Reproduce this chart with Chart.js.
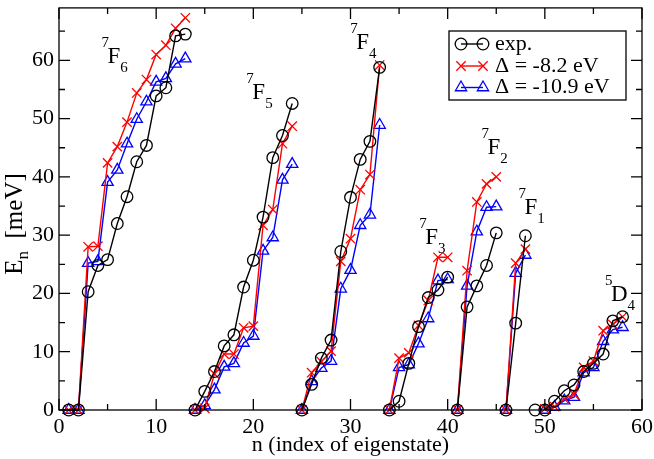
<!DOCTYPE html>
<html><head><meta charset="utf-8">
<script src="https://cdn.jsdelivr.net/npm/chart.js@4.4.0/dist/chart.umd.min.js"></script>
<style>html,body{margin:0;padding:0;background:#fff;}</style>
</head><body>
<canvas id="c" width="654" height="459"></canvas>
<script>
// ---- data ----
const nIndex = [1,2,3,4,5,6,7,8,9,10,11,12,13,14,15,16,17,18,19,20,21,22,23,24,25,26,27,28,29,30,
  31,32,33,34,35,36,37,38,39,40,41,42,43,44,45,46,47,48,49,50,51,52,53,54,55,56,57,58];
const expE = [0,0,20.3,24.8,25.8,32.0,36.6,42.6,45.4,53.9,55.3,64.2,64.5,
  0,3.2,6.6,11.0,12.9,21.1,25.7,33.1,43.3,47.1,52.6,
  0,4.4,8.9,12.0,27.2,36.5,43.0,46.1,58.8,
  0,1.5,8.0,14.3,19.3,20.6,22.8,
  0,17.7,21.3,24.8,30.4,
  0,14.9,29.9,
  0,
  0,1.5,3.3,4.3,6.6,8.0,9.6,15.3,16.0];
const delta82E = [0,0,28.0,28.1,42.4,45.2,49.4,54.4,56.7,61.0,62.6,65.5,67.3,
  0,0.3,6.2,9.6,9.6,14.1,14.4,31.7,34.4,45.7,48.7,
  0,6.4,8.3,10.1,25.5,29.4,37.8,40.4,59.2,
  0,8.9,9.8,14.5,18.8,26.2,26.2,
  0,23.9,35.7,38.8,40.0,
  0,25.2,27.6,
  null,
  0.2,0.6,1.9,2.7,7.3,8.4,13.6,14.7,16.0];
const delta109E = [0,0,25.2,25.5,39.1,41.2,45.7,49.9,52.9,56.3,56.9,59.4,60.3,
  0,0.8,3.5,7.4,8.0,11.5,12.7,27.3,29.6,39.5,42.2,
  0,4.9,7.2,8.4,20.8,24.0,31.7,33.5,48.9,
  0,7.3,7.8,11.4,15.7,22.2,22.4,
  0,21.3,30.6,34.8,34.9,
  0,23.5,26.6,
  null,
  0,0.5,1.6,2.2,6.4,7.3,11.8,13.8,14.2];
const groupStarts = [1,14,25,34,41,46,49,50];
const seriesNames = ['exp.','\u0394 = -8.2 eV','\u0394 = -10.9 eV'];
const xTicks = [0,10,20,30,40,50,60];
const xMinor = [5,15,25,35,45,55];
const yTicks = [0,10,20,30,40,50,60];
const yMinor = [5,15,25,35,45,55,65];
const levelNames = [['7','F','6'],['7','F','5'],['7','F','4'],['7','F','3'],['7','F','2'],['7','F','1'],['5','D','4']];
const levelAnchors = [[5.0,59.6],[19.9,53.3],[30.6,62.0],[37.7,28.5],[44.1,43.9],[47.9,33.6],[56.8,18.7]];
const xTitle = 'n (index of eigenstate)';
const yTitleMain = 'E', yTitleSub = 'n', yTitleRest = '  [meV]';

// ---- chart ----
const FONT = '"Liberation Serif", "DejaVu Serif", serif';
const toPts = arr => arr.map((v,i)=>({x:nIndex[i], y:v}));
const seg = {borderColor: c => groupStarts.includes(nIndex[c.p1DataIndex]) ? 'rgba(0,0,0,0)' : undefined};
const styles = [
  {color:'#000000', pointStyle:'circle', radius:5.8},
  {color:'#ff0000', pointStyle:'crossRot', radius:6.6},
  {color:'#0000ff', pointStyle:'triangle', radius:6.5}
];
const values = [expE, delta82E, delta109E];
const datasets = values.map((v,k)=>({
  label: seriesNames[k],
  data: toPts(v),
  borderColor: styles[k].color,
  backgroundColor: 'rgba(0,0,0,0)',
  borderWidth: 1.4,
  pointStyle: styles[k].pointStyle,
  pointRadius: styles[k].radius,
  pointBorderWidth: 1.3,
  pointBorderColor: styles[k].color,
  pointBackgroundColor: 'rgba(0,0,0,0)',
  tension: 0,
  spanGaps: false,
  clip: false,
  segment: seg
}));

function tickMarks(ch, ctx, ca, xs, ys, len){
  const x = ch.scales.x, y = ch.scales.y;
  ctx.beginPath();
  xs.forEach(v=>{
    const p = x.getPixelForValue(v);
    ctx.moveTo(p, ca.bottom); ctx.lineTo(p, ca.bottom-len);
    ctx.moveTo(p, ca.top); ctx.lineTo(p, ca.top+len);
  });
  ys.forEach(v=>{
    const p = y.getPixelForValue(v);
    ctx.moveTo(ca.left, p); ctx.lineTo(ca.left+len, p);
    ctx.moveTo(ca.right, p); ctx.lineTo(ca.right-len, p);
  });
  ctx.stroke();
}

const decor = {
  id:'decor',
  afterDatasetsDraw(ch){
    const ctx = ch.ctx, ca = ch.chartArea;
    const xs = ch.scales.x, ys = ch.scales.y;
    ctx.save();
    ctx.strokeStyle = '#000'; ctx.lineWidth = 1.3;
    ctx.strokeRect(ca.left, ca.top, ca.right-ca.left, ca.bottom-ca.top);
    tickMarks(ch, ctx, ca, xTicks, yTicks, 11);
    tickMarks(ch, ctx, ca, xMinor, yMinor, 6);
    ctx.fillStyle = '#000';
    // x title
    ctx.font = '22px ' + FONT;
    ctx.textAlign = 'center'; ctx.textBaseline = 'alphabetic';
    ctx.fillText(xTitle, (ca.left+ca.right)/2, 451);
    // y title
    ctx.save();
    ctx.translate(22, 224);
    ctx.rotate(-Math.PI/2);
    ctx.textAlign = 'left';
    ctx.font = '25px ' + FONT;
    const wE = ctx.measureText(yTitleMain).width, wR = ctx.measureText(yTitleRest).width;
    ctx.font = '17px ' + FONT;
    const wn = ctx.measureText(yTitleSub).width;
    let sx = -(wE+wn+wR)/2;
    ctx.font = '25px ' + FONT; ctx.fillText(yTitleMain, sx, 0);
    ctx.font = '17px ' + FONT; ctx.fillText(yTitleSub, sx+wE, 6);
    ctx.font = '25px ' + FONT; ctx.fillText(yTitleRest, sx+wE+wn, 0);
    ctx.restore();
    // level labels
    ctx.textAlign = 'left';
    levelNames.forEach((nm,i)=>{
      const L = xs.getPixelForValue(levelAnchors[i][0]);
      const B = ys.getPixelForValue(levelAnchors[i][1]);
      ctx.font = '23px ' + FONT;
      const w = ctx.measureText(nm[1]).width;
      ctx.fillText(nm[1], L, B);
      ctx.font = '15px ' + FONT;
      ctx.fillText(nm[0], L-6, B-16);
      ctx.fillText(nm[2], L+w, B+9);
    });
    // legend
    const bx = 449, by = 31, bw = 177, bh = 69;
    ctx.lineWidth = 1.3; ctx.strokeStyle = '#000';
    ctx.strokeRect(bx, by, bw, bh);
    const rows = [44, 66, 87.5];
    ctx.font = '22px ' + FONT;
    datasets.forEach((d,k)=>{
      const yy = rows[k];
      ctx.strokeStyle = d.borderColor; ctx.lineWidth = 1.4;
      ctx.beginPath(); ctx.moveTo(461, yy); ctx.lineTo(483, yy); ctx.stroke();
      ctx.lineWidth = 1.3; ctx.fillStyle = 'rgba(0,0,0,0)';
      [461,483].forEach(px=>{
        Chart.helpers.drawPoint(ctx, {pointStyle:d.pointStyle, radius:d.pointRadius, rotation:0, borderWidth:1.3}, px, yy);
      });
      ctx.fillStyle = '#000';
      ctx.fillText(d.label, 495, yy+5.5);
    });
    ctx.restore();
  }
};

const chart = new Chart(document.getElementById('c'), {
  type:'line',
  data:{datasets},
  options:{
    responsive:false, animation:false, devicePixelRatio:1,
    layout:{padding:{top:2, right:12, left:0, bottom:0}},
    plugins:{legend:{display:false}, tooltip:{enabled:false}},
    scales:{
      x:{type:'linear', min:0, max:60,
        afterBuildTicks: s => { s.ticks = xTicks.map(v=>({value:v})); },
        afterFit: s => { s.height = 49; s.paddingLeft = 0; s.paddingRight = 0; },
        grid:{display:false, drawTicks:false}, border:{display:false},
        ticks:{padding:4, color:'#000', font:{family:FONT, size:22}, maxRotation:0}},
      y:{type:'linear', min:0, max:69,
        afterBuildTicks: s => { s.ticks = yTicks.map(v=>({value:v})); },
        afterFit: s => { s.width = 59; s.paddingTop = 0; s.paddingBottom = 0; },
        grid:{display:false, drawTicks:false}, border:{display:false},
        ticks:{padding:5, color:'#000', font:{family:FONT, size:22}}}
    }
  },
  plugins:[decor]
});
</script>
</body></html>
